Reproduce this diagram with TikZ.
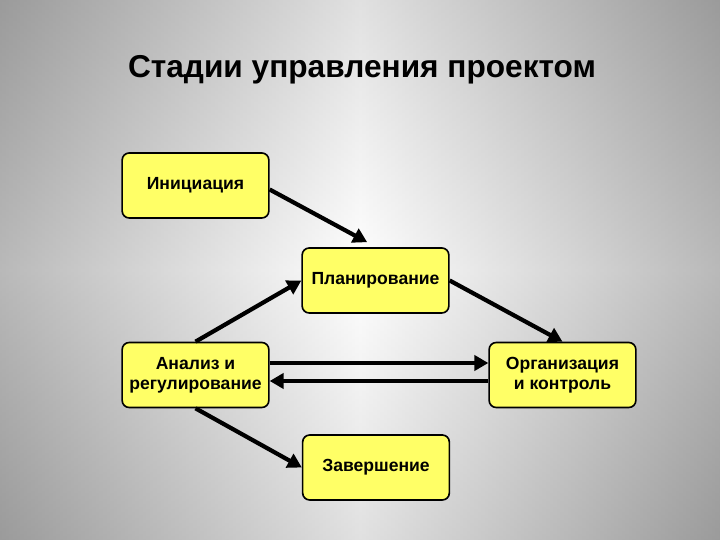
\documentclass[tikz,border=0pt]{standalone}
\usepackage{fontspec}
\setmainfont{Liberation Sans}
\usetikzlibrary{arrows.meta}
\definecolor{stageyellow}{RGB}{255,255,102}
\definecolor{bggray}{RGB}{155,155,155}
\tikzset{
  stagebox/.style={draw=black, line width=1.4pt, fill=stageyellow, rounded corners=6pt,
    minimum width=4.4cm, minimum height=1.95cm, align=center,
    font=\fontsize{15}{17}\selectfont\bfseries},
  flow/.style={line width=3.6pt, -{Triangle[length=12pt,width=13pt]}}
}
\begin{document}
\begin{tikzpicture}
    % background
    \useasboundingbox (0,0) rectangle (21.6,16.2);
    \shade[left color=bggray, right color=bggray, middle color=white] (0,0) rectangle (21.6,16.2);
    \shade[top color=bggray, bottom color=bggray, middle color=white, opacity=0.3] (0,0) rectangle (21.6,16.2);

    % title
    \node[font=\fontsize{27}{32}\selectfont\bfseries] (title) at (10.86,14.1) {Стадии управления проектом};

    % stages
    \node[stagebox] (init) at (5.865,10.635) {Инициация};
    \node[stagebox] (plan) at (11.265,7.785) {Планирование};
    \node[stagebox] (anal) at (5.865,4.95) {Анализ и\\регулирование};
    \node[stagebox] (org) at (16.875,4.95) {Организация\\и контроль};
    \node[stagebox] (fin) at (11.28,2.175) {Завершение};

    % arrows
    \draw[flow] ([yshift=-0.12cm]init.east) -- ([xshift=-0.25cm,yshift=0.15cm]plan.north);
    \draw[flow] (plan.east) -- (org.north);
    \draw[flow] (anal.north) -- (plan.west);
    \draw[flow] (anal.south) -- (fin.west);
    \draw[flow] ([yshift=0.36cm]anal.east) -- ([yshift=0.36cm]org.west);
    \draw[flow] ([yshift=-0.18cm]org.west) -- ([yshift=-0.18cm]anal.east);
\end{tikzpicture}
\end{document}
